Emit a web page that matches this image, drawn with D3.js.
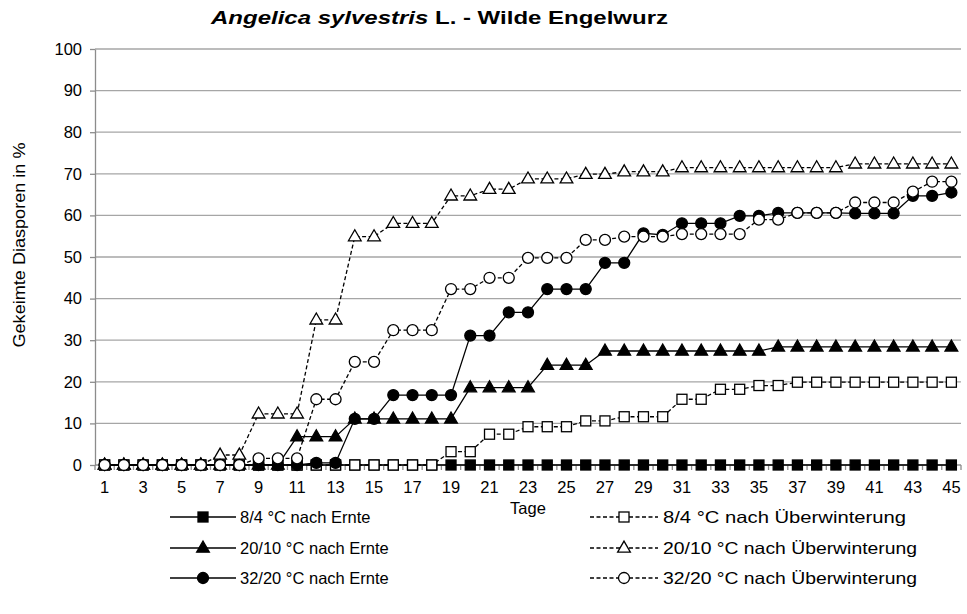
<!DOCTYPE html>
<html>
<head>
<meta charset="utf-8">
<script src="https://cdn.jsdelivr.net/npm/d3@7"></script>
<style>
  html, body { margin: 0; padding: 0; background: #fff; }
  svg { display: block; font-family: "Liberation Sans", Arial, sans-serif; }
</style>
</head>
<body>
<svg id="chart" width="967" height="614"></svg>
<script>
// ---- Data ----
const days = d3.range(1, 46);
const yTicks = [0, 10, 20, 30, 40, 50, 60, 70, 80, 90, 100];
const xTickLabels = days.filter(d => d % 2 === 1);

const s84Ernte = [0,0,0,0,0,0,0,0,0,0, 0,0,0,0,0,0,0,0,0,0, 0,0,0,0,0,0,0,0,0,0, 0,0,0,0,0,0,0,0,0,0, 0,0,0,0,0];
const s2010Ernte = [0,0,0,0,0,0,0,0,0,0, 6.8,6.8,6.8,11.1,11.1,11.1,11.1,11.1,11.1,18.6, 18.6,18.6,18.6,24,24,24,27.4,27.4,27.4,27.4, 27.4,27.4,27.4,27.4,27.4,28.4,28.4,28.4,28.4,28.4, 28.4,28.4,28.4,28.4,28.4];
const s3220Ernte = [0,0,0,0,0,0,0,0,0,0, 0,0.5,0.5,11.1,11.1,16.8,16.8,16.8,16.8,31.1, 31.1,36.7,36.7,42.3,42.3,42.3,48.6,48.6,55.7,55.3, 58.1,58.1,58.1,59.9,59.9,60.6,60.6,60.6,60.6,60.5, 60.5,60.5,64.7,64.7,65.5];
const s84Ueber = [0,0,0,0,0,0,0,0,0,0, 0,0,0,0,0,0,0,0,3.2,3.2, 7.4,7.4,9.2,9.2,9.2,10.6,10.6,11.6,11.6,11.6, 15.8,15.8,18.2,18.2,19.1,19.1,19.9,19.9,19.9,19.9, 19.9,19.9,19.9,19.9,19.9];
const s2010Ueber = [0,0,0,0,0,0,2.4,2.4,12.3,12.3, 12.3,34.9,34.9,54.9,54.9,58.1,58.1,58.1,64.7,64.7, 66.3,66.3,68.8,68.8,68.8,69.9,69.9,70.5,70.5,70.5, 71.5,71.5,71.5,71.5,71.5,71.5,71.5,71.5,71.5,72.4, 72.4,72.4,72.4,72.4,72.4];
const s3220Ueber = [0,0,0,0,0,0,0,0,1.6,1.6, 1.6,15.8,15.8,24.8,24.8,32.4,32.4,32.4,42.3,42.3, 45,45,49.8,49.8,49.8,54.1,54.1,54.9,54.9,54.9, 55.5,55.5,55.5,55.5,59,59,60.6,60.6,60.6,63.1, 63.1,63.1,65.7,68.1,68.1];

const seriesNames = ["8/4 °C nach Ernte", "8/4 °C nach Überwinterung",
                     "20/10 °C nach Ernte", "20/10 °C nach Überwinterung",
                     "32/20 °C nach Ernte", "32/20 °C nach Überwinterung"];
const seriesValues = [s84Ernte, s84Ueber, s2010Ernte, s2010Ueber, s3220Ernte, s3220Ueber];
const seriesMarker = ["square", "square", "triangle", "triangle", "circle", "circle"];
const seriesFilled = [true, false, true, false, true, false];
const seriesDashed = [false, true, false, true, false, true];

// ---- Layout ----
const svg = d3.select("#chart");
const pLeft = 95, pRight = 961, pTop = 49, pBottom = 465;
const FONT = "Liberation Sans, Arial, sans-serif";
const DASH = "4,2.5";

const x = d3.scaleBand().domain(days).range([pLeft, pRight]).padding(0);
const xc = d => x(d) + x.bandwidth() / 2;
const y = d3.scaleLinear().domain([0, 100]).range([pBottom, pTop]);

// gridlines
svg.append("g").selectAll("line").data(yTicks.filter(t => t > 0)).join("line")
  .attr("x1", pLeft).attr("x2", pRight)
  .attr("y1", d => y(d)).attr("y2", d => y(d))
  .attr("stroke", "#a6a6a6").attr("stroke-width", 1.3);

// y axis
const yAxis = svg.append("g").attr("transform", `translate(${pLeft},0)`)
  .call(d3.axisLeft(y).tickValues(yTicks).tickSize(5).tickSizeOuter(0).tickPadding(8));
yAxis.select(".domain").attr("stroke", "#8c8c8c").attr("stroke-width", 1.3);
yAxis.selectAll(".tick line").attr("stroke", "#8c8c8c").attr("stroke-width", 1.3);
yAxis.selectAll("text").attr("font-size", 16.5).attr("font-family", FONT).attr("fill", "#000");

// x axis line + boundary ticks
svg.append("line").attr("x1", pLeft).attr("x2", pRight)
  .attr("y1", y(0)).attr("y2", y(0)).attr("stroke", "#8c8c8c").attr("stroke-width", 1.3);
svg.append("g").selectAll("line").data(days.concat([46])).join("line")
  .attr("x1", d => d <= 45 ? x(d) : pRight).attr("x2", d => d <= 45 ? x(d) : pRight)
  .attr("y1", y(0)).attr("y2", y(0) + 5)
  .attr("stroke", "#8c8c8c").attr("stroke-width", 1.3);
const xAxis = svg.append("g").attr("transform", `translate(0,${y(0)})`)
  .call(d3.axisBottom(x).tickValues(xTickLabels).tickSize(0).tickPadding(16));
xAxis.select(".domain").remove();
xAxis.selectAll("text").attr("font-size", 16.5).attr("font-family", FONT).attr("fill", "#000");

// axis titles
svg.append("text").attr("x", (pLeft + pRight) / 2).attr("y", 514)
  .attr("text-anchor", "middle").attr("font-size", 16.5).attr("font-family", FONT).text("Tage");
svg.append("text").attr("transform", `translate(25,245) rotate(-90)`)
  .attr("text-anchor", "middle").attr("font-size", 17).attr("font-family", FONT)
  .attr("textLength", 205).attr("lengthAdjust", "spacingAndGlyphs")
  .text("Gekeimte Diasporen in %");

// title
const title = svg.append("text").attr("x", 211).attr("y", 24)
  .attr("font-size", 19).attr("font-weight", "bold").attr("font-family", FONT)
  .attr("textLength", 457).attr("lengthAdjust", "spacingAndGlyphs");
title.append("tspan").attr("font-style", "italic").text("Angelica sylvestris");
title.append("tspan").text(" L. - Wilde Engelwurz");

// marker drawing
function drawMarker(g, type, filled, cx, cy) {
  const fill = filled ? "#000" : "#fff";
  if (type === "square") {
    g.append("rect").attr("x", cx - 5).attr("y", cy - 5).attr("width", 10).attr("height", 10)
      .attr("fill", fill).attr("stroke", "#000").attr("stroke-width", 1.3);
  } else if (type === "circle") {
    g.append("circle").attr("cx", cx).attr("cy", cy).attr("r", 5.5)
      .attr("fill", fill).attr("stroke", "#000").attr("stroke-width", 1.3);
  } else {
    g.append("path").attr("d", d3.symbol(d3.symbolTriangle, 70)())
      .attr("transform", `translate(${cx},${cy + 0.5})`)
      .attr("fill", fill).attr("stroke", "#000").attr("stroke-width", 1.3);
  }
}

// series
const line = d3.line().x((d, i) => xc(days[i])).y(d => y(d));
seriesValues.forEach((vals, si) => {
  const g = svg.append("g");
  g.append("path").attr("d", line(vals)).attr("fill", "none").attr("stroke", "#000")
    .attr("stroke-width", 1.3).attr("stroke-dasharray", seriesDashed[si] ? DASH : null);
  vals.forEach((v, i) => drawMarker(g, seriesMarker[si], seriesFilled[si], xc(days[i]), y(v)));
});

// legend
const legCols = [{x0: 170, x1: 236, tx: 240}, {x0: 590, x1: 658, tx: 663}];
const legRows = [517, 548, 578];
const legTextLen = [null, 243, null, 254, null, 254];
seriesNames.forEach((name, si) => {
  const col = legCols[si % 2], ry = legRows[Math.floor(si / 2)];
  const g = svg.append("g");
  g.append("line").attr("x1", col.x0).attr("x2", col.x1).attr("y1", ry).attr("y2", ry)
    .attr("stroke", "#000").attr("stroke-width", 1.3)
    .attr("stroke-dasharray", seriesDashed[si] ? DASH : null);
  drawMarker(g, seriesMarker[si], seriesFilled[si], (col.x0 + col.x1) / 2, ry);
  const t = g.append("text").attr("x", col.tx).attr("y", ry).attr("dy", "0.35em")
    .attr("font-size", 16.5).attr("font-family", FONT).text(name);
  if (legTextLen[si]) t.attr("textLength", legTextLen[si]).attr("lengthAdjust", "spacingAndGlyphs");
});
</script>
</body>
</html>
